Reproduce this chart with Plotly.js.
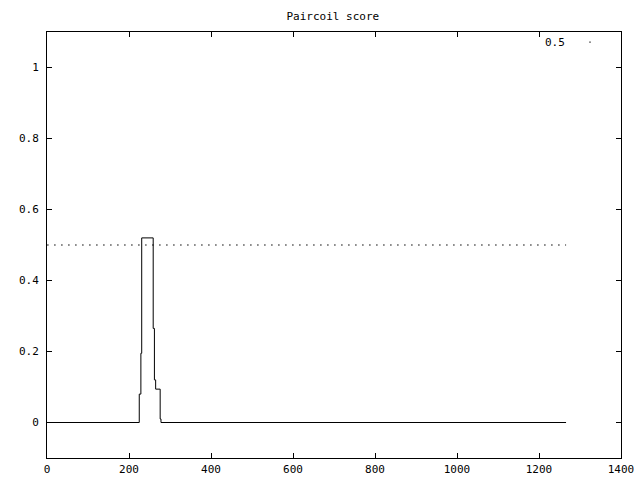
<!DOCTYPE html>
<html>
<head>
<meta charset="utf-8">
<script src="https://cdn.plot.ly/plotly-3.0.1.min.js"></script>
<style>html,body{margin:0;padding:0;background:#fff;}</style>
</head>
<body>
<div id="chart" style="width:640px;height:480px;"></div>
<script>
// Paircoil score per residue position (step profile)
const positions = [1, 225, 229, 231, 259, 262, 265, 276, 278, 1266];
const scores    = [0, 0.08, 0.195, 0.52, 0.265, 0.12, 0.094, 0.01, 0, 0];
// Threshold line
const thresholdX = [1, 1266];
const thresholdY = [0.5, 0.5];
const thresholdLabel = "0.5";
const xTicks = [0, 200, 400, 600, 800, 1000, 1200, 1400];
const yTicks = [0, 0.2, 0.4, 0.6, 0.8, 1];

const font = {family: "DejaVu Sans Mono, monospace", size: 11, color: "#000"};

const traces = [
  {x: positions, y: scores, mode: "lines", line: {shape: "hv", color: "#000", width: 1}, showlegend: false, hoverinfo: "skip"},
  {x: thresholdX, y: thresholdY, mode: "lines", line: {color: "#000", width: 1.3, dash: "1px,6px"}, name: thresholdLabel, showlegend: false}
];

const axisCommon = {
  showline: true, linecolor: "#000", linewidth: 1, mirror: "allticks",
  ticks: "inside", ticklen: 5, tickcolor: "#000", tickwidth: 1,
  showgrid: false, zeroline: false, tickfont: font
};

const layout = {
  width: 640, height: 480,
  margin: {l: 47, r: 19, t: 32, b: 22},
  paper_bgcolor: "#fff", plot_bgcolor: "#fff",
  font: font,
  title: {text: "Paircoil score", font: font, x: 0.52, xanchor: "center", y: 0.967, yanchor: "middle"},
  xaxis: Object.assign({}, axisCommon, {range: [0, 1400], tickvals: xTicks, ticktext: xTicks.map(String), ticklabelstandoff: 1}),
  yaxis: Object.assign({}, axisCommon, {range: [-0.1, 1.1], tickvals: yTicks, ticktext: yTicks.map(String), ticklabelstandoff: 5}),
  annotations: [{xref: "paper", yref: "paper", x: 0.906, y: 0.976, xanchor: "right", yanchor: "middle", text: thresholdLabel, showarrow: false, font: font}],
  shapes: [{type: "line", xref: "paper", yref: "paper", x0: 0.945, x1: 0.947, y0: 0.976, y1: 0.976, line: {color: "#000", width: 1.3}}]
};

Plotly.newPlot("chart", traces, layout, {displayModeBar: false, staticPlot: true});
</script>
</body>
</html>
